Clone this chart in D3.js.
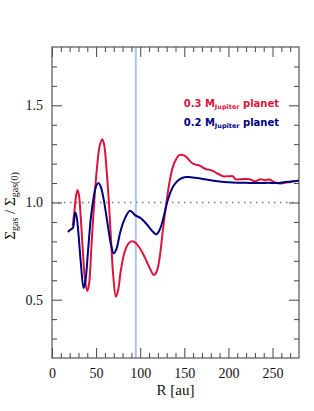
<!DOCTYPE html>
<html>
<head>
<meta charset="utf-8">
<script src="https://cdn.jsdelivr.net/npm/d3@7"></script>
<style>
  body { margin: 0; background: #fff; }
  svg { display: block; }
</style>
</head>
<body>
<svg id="chart" width="314" height="411"></svg>
<script>
// radius [au] and normalised surface density
const rRed = [23.5, 25.5, 27.5, 29, 30.5, 32.5, 35, 37.5, 40, 42, 45, 47.8, 51, 54, 56.9, 59, 62, 64.5, 67, 69.5,
  72.4, 75, 78, 82, 86, 90, 94, 98, 103, 107, 111, 115.4, 118, 120.3, 123, 126, 129.7, 133, 137, 141,
  144, 146.7, 149.5, 152.4, 156, 159.8, 163, 167.4, 171, 175, 178.7, 182.5, 186, 190, 193.8, 200, 205, 208, 215, 224,
  229.6, 233, 237, 241, 246.6, 252.3, 257.9, 262, 265.5, 271, 276.8, 280];
const sigmaRed = [0.88, 0.96, 1.04, 1.063, 1.04, 0.93, 0.75, 0.60, 0.545, 0.58, 0.80, 1.0, 1.18, 1.29, 1.325, 1.30, 1.16, 1.0, 0.80, 0.62,
  0.515, 0.55, 0.65, 0.74, 0.785, 0.80, 0.795, 0.775, 0.738, 0.70, 0.661, 0.627, 0.638, 0.67, 0.75, 0.87, 1.0, 1.10, 1.183, 1.225,
  1.243, 1.246, 1.242, 1.234, 1.215, 1.20, 1.195, 1.19, 1.18, 1.171, 1.168, 1.162, 1.153, 1.144, 1.135, 1.135, 1.135, 1.12, 1.12, 1.12,
  1.109, 1.113, 1.12, 1.115, 1.118, 1.104, 1.098, 1.10, 1.103, 1.106, 1.111, 1.113];

const rBlue = [18, 21, 23.8, 25.5, 26.5, 28, 30, 32.5, 35.8, 38, 41, 44, 47, 50, 52.5, 55, 58, 61, 64, 67,
  70, 73, 77, 81, 85, 88, 91, 94, 97, 101, 105, 109, 112, 115.5, 118.4, 121, 124, 127, 130.5, 134,
  137, 141, 145, 150, 155, 162, 171, 180, 190, 200, 210, 220, 235, 245, 254, 265, 280];
const sigmaBlue = [0.849, 0.86, 0.87, 0.93, 0.948, 0.925, 0.84, 0.70, 0.56, 0.60, 0.76, 0.92, 1.02, 1.085, 1.10, 1.085, 1.03, 0.95, 0.86, 0.78,
  0.738, 0.76, 0.84, 0.90, 0.94, 0.957, 0.95, 0.935, 0.928, 0.918, 0.90, 0.88, 0.862, 0.845, 0.836, 0.85, 0.883, 0.935, 1.0, 1.05,
  1.08, 1.105, 1.12, 1.13, 1.131, 1.127, 1.121, 1.114, 1.108, 1.104, 1.102, 1.101, 1.10, 1.101, 1.10, 1.105, 1.112];

const planetR = 95;
const xMajor = [0, 50, 100, 150, 200, 250];
const xMinor = d3.range(10, 280, 10);
const yMajor = [0.5, 1.0, 1.5];
const yMinor = [0.3, 0.4, 0.6, 0.7, 0.8, 0.9, 1.1, 1.2, 1.3, 1.4, 1.6, 1.7];

const svg = d3.select("#chart");
const margin = { top: 47, right: 15, bottom: 53, left: 52 };
const width = +svg.attr("width") - margin.left - margin.right;
const height = +svg.attr("height") - margin.top - margin.bottom;
const g = svg.append("g").attr("transform", `translate(${margin.left},${margin.top})`);

const x = d3.scaleLinear().domain([0, 280]).range([0, width]);
const y = d3.scaleLinear().domain([0.2, 1.8]).range([height, 0]);

const serif = "'Liberation Serif', 'Times New Roman', serif";
const red = "#dc143c";
const navy = "#000080";

// planet position
g.append("line")
  .attr("x1", x(planetR)).attr("x2", x(planetR))
  .attr("y1", 0).attr("y2", height)
  .attr("stroke", "#b0c4de").attr("stroke-width", 2);

// unperturbed level
g.append("line")
  .attr("x1", 0).attr("x2", width)
  .attr("y1", y(1)).attr("y2", y(1))
  .attr("stroke", "#777").attr("stroke-width", 1.3)
  .attr("stroke-dasharray", "1.5,4.5");

const line = d3.line()
  .x(d => x(d[0]))
  .y(d => y(d[1]))
  .curve(d3.curveCatmullRom);

g.append("path")
  .datum(d3.zip(rRed, sigmaRed))
  .attr("fill", "none").attr("stroke", red).attr("stroke-width", 2)
  .attr("d", line);

g.append("path")
  .datum(d3.zip(rBlue, sigmaBlue))
  .attr("fill", "none").attr("stroke", navy).attr("stroke-width", 2)
  .attr("d", line);

// axes, ticks pointing inward on all four sides
function styleAxis(sel) {
  sel.select(".domain").remove();
  sel.selectAll(".tick line").attr("stroke", "#444");
  sel.selectAll("text").attr("font-family", serif).attr("font-size", 14).attr("fill", "#111");
}

g.append("g").attr("transform", `translate(0,${height})`)
  .call(d3.axisBottom(x).tickValues(xMajor).tickSize(-10).tickPadding(10).tickFormat(d3.format("d")))
  .call(styleAxis);
g.append("g").attr("transform", `translate(0,${height})`)
  .call(d3.axisBottom(x).tickValues(xMinor.filter(v => v % 50)).tickSize(-5).tickFormat(""))
  .call(styleAxis);
g.append("g")
  .call(d3.axisTop(x).tickValues(xMajor).tickSize(-10).tickFormat(""))
  .call(styleAxis);
g.append("g")
  .call(d3.axisTop(x).tickValues(xMinor.filter(v => v % 50)).tickSize(-5).tickFormat(""))
  .call(styleAxis);

g.append("g")
  .call(d3.axisLeft(y).tickValues(yMajor).tickSize(-10).tickPadding(9).tickFormat(d3.format(".1f")))
  .call(styleAxis);
g.append("g")
  .call(d3.axisLeft(y).tickValues(yMinor).tickSize(-5).tickFormat(""))
  .call(styleAxis);
g.append("g").attr("transform", `translate(${width},0)`)
  .call(d3.axisRight(y).tickValues(yMajor).tickSize(-10).tickFormat(""))
  .call(styleAxis);
g.append("g").attr("transform", `translate(${width},0)`)
  .call(d3.axisRight(y).tickValues(yMinor).tickSize(-5).tickFormat(""))
  .call(styleAxis);

g.append("rect")
  .attr("width", width).attr("height", height)
  .attr("fill", "none").attr("stroke", "#555").attr("stroke-width", 1.2);

// axis titles
svg.append("text")
  .attr("x", margin.left + width / 2).attr("y", 395)
  .attr("text-anchor", "middle")
  .attr("font-family", serif).attr("font-size", 15).attr("fill", "#111")
  .text("R [au]");

const yTitle = svg.append("text")
  .attr("transform", "translate(15,206) rotate(-90)")
  .attr("text-anchor", "middle")
  .attr("font-family", serif).attr("font-size", 15).attr("fill", "#111");
yTitle.append("tspan").text("Σ");
yTitle.append("tspan").attr("font-size", 10).attr("dy", 3).text("gas");
yTitle.append("tspan").attr("dy", -3).text(" / Σ");
yTitle.append("tspan").attr("font-size", 10).attr("dy", 3).text("gas(0)");

// legend
const sans = "'DejaVu Sans', sans-serif";
const legend = [
  { mass: "0.3", color: red, yPos: 107 },
  { mass: "0.2", color: navy, yPos: 126 }
];
legend.forEach(d => {
  const t = svg.append("text")
    .attr("x", 279).attr("y", d.yPos)
    .attr("text-anchor", "end")
    .attr("font-family", sans).attr("font-weight", "bold")
    .attr("font-size", 10).attr("fill", d.color);
  t.append("tspan").text(`${d.mass} M`);
  t.append("tspan").attr("font-size", 6.5).attr("dy", 2).text("Jupiter");
  t.append("tspan").attr("dy", -2).text(" planet");
});
</script>
</body>
</html>
